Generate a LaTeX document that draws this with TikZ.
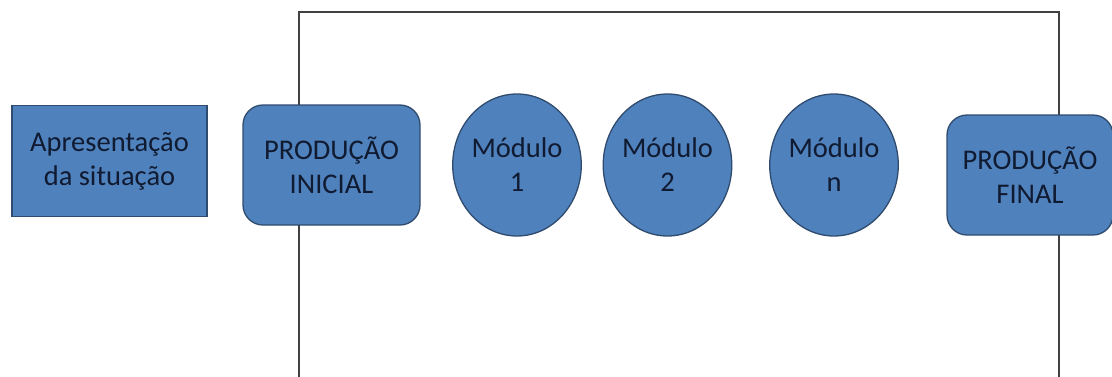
\documentclass[tikz,border=0pt]{standalone}
\usepackage{fontspec}
\setmainfont{Carlito}
\usetikzlibrary{shapes.geometric}
\definecolor{boxfill}{HTML}{4F81BD}
\definecolor{boxline}{HTML}{2F4B6E}
\definecolor{txt}{HTML}{101A30}
\definecolor{frameline}{HTML}{404040}
\begin{document}
\begin{tikzpicture}[x=1pt,y=-1pt,
  base/.style={fill=boxfill,draw=boxline,line width=1.3pt,text=txt,align=center,
    font=\fontsize{28.5}{34}\selectfont,inner sep=0pt},
  sqbox/.style={base,rectangle,minimum width=195pt,minimum height=111pt},
  rbox/.style={base,rectangle,rounded corners=20pt,minimum width=177pt,minimum height=120pt},
  modc/.style={base,ellipse,minimum width=122pt,minimum height=142pt}]
\useasboundingbox (0,0) rectangle (1112,376);
\draw[frameline,line width=1.5pt] (299,377) -- (299,12) -- (1059,12) -- (1059,377);
\node[sqbox] (ap) at (109.5,161) {Apresentação\\da situação};
\node[rbox] (pi) at (331.5,165) {PRODUÇÃO\\INICIAL};
\node[modc] (m1) at (517,165) {Módulo\\1};
\node[modc] (m2) at (667.5,165) {Módulo\\2};
\node[modc] (mn) at (834,165) {Módulo\\n};
\node[rbox,minimum width=166pt] (pf) at (1030,175) {PRODUÇÃO\\FINAL};
\end{tikzpicture}
\end{document}
